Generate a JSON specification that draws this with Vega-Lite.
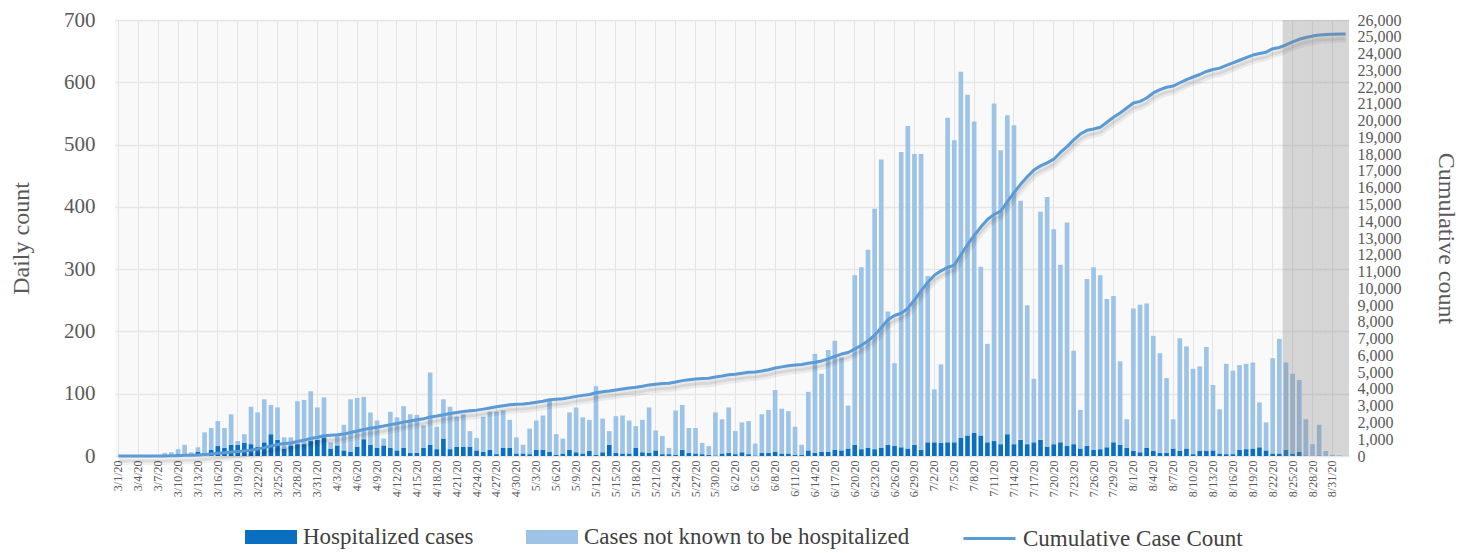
{
  "$schema": "https://vega.github.io/schema/vega-lite/v6.json",
  "width": 1234,
  "height": 436,
  "autosize": {"type": "none"},
  "padding": {"left": 115, "top": 20, "right": 119, "bottom": 97},
  "background": "white",
  "config": {
    "font": "Liberation Serif",
    "view": {"stroke": null, "fill": "#f9f9f9"},
    "axis": {"labelFont": "Liberation Serif", "titleFont": "Liberation Serif", "labelColor": "#595959", "titleColor": "#595959", "titleFontWeight": "normal", "domain": false, "ticks": false},
    "legend": {"labelFont": "Liberation Serif", "labelColor": "#404040", "padding": 0, "labelLimit": 0}
  },
  "data": {"values": [
    {"d":"3/1/20","h":0,"n":0,"c":0},{"d":"3/2/20","h":0,"n":0,"c":0},{"d":"3/3/20","h":0,"n":0,"c":0},{"d":"3/4/20","h":0,"n":0,"c":0},{"d":"3/5/20","h":0,"n":0,"c":0},{"d":"3/6/20","h":0,"n":1,"c":1},{"d":"3/7/20","h":0,"n":1,"c":2},{"d":"3/8/20","h":1,"n":4,"c":6},{"d":"3/9/20","h":2,"n":4,"c":12},{"d":"3/10/20","h":3,"n":8,"c":22},
    {"d":"3/11/20","h":3,"n":15,"c":38},{"d":"3/12/20","h":2,"n":4,"c":44},{"d":"3/13/20","h":7,"n":7,"c":57},{"d":"3/14/20","h":5,"n":33,"c":90},{"d":"3/15/20","h":10,"n":35,"c":125},{"d":"3/16/20","h":16,"n":40,"c":160},{"d":"3/17/20","h":13,"n":32,"c":195},{"d":"3/18/20","h":18,"n":49,"c":245},{"d":"3/19/20","h":18,"n":6,"c":265},{"d":"3/20/20","h":21,"n":14,"c":295},
    {"d":"3/21/20","h":19,"n":60,"c":350},{"d":"3/22/20","h":15,"n":55,"c":415},{"d":"3/23/20","h":22,"n":69,"c":500},{"d":"3/24/20","h":35,"n":47,"c":600},{"d":"3/25/20","h":26,"n":52,"c":690},{"d":"3/26/20","h":12,"n":18,"c":740},{"d":"3/27/20","h":17,"n":13,"c":775},{"d":"3/28/20","h":19,"n":69,"c":860},{"d":"3/29/20","h":19,"n":71,"c":945},{"d":"3/30/20","h":24,"n":80,"c":1045},{"d":"3/31/20","h":26,"n":52,"c":1120},
    {"d":"4/1/20","h":30,"n":64,"c":1210},{"d":"4/2/20","h":12,"n":10,"c":1232},{"d":"4/3/20","h":17,"n":15,"c":1262},{"d":"4/4/20","h":9,"n":41,"c":1310},{"d":"4/5/20","h":7,"n":84,"c":1398},{"d":"4/6/20","h":15,"n":78,"c":1488},{"d":"4/7/20","h":27,"n":68,"c":1585},{"d":"4/8/20","h":18,"n":52,"c":1660},{"d":"4/9/20","h":13,"n":44,"c":1720},{"d":"4/10/20","h":17,"n":11,"c":1790},
    {"d":"4/11/20","h":13,"n":58,"c":1870},{"d":"4/12/20","h":9,"n":53,"c":1935},{"d":"4/13/20","h":13,"n":67,"c":2020},{"d":"4/14/20","h":5,"n":62,"c":2090},{"d":"4/15/20","h":5,"n":61,"c":2160},{"d":"4/16/20","h":13,"n":36,"c":2215},{"d":"4/17/20","h":18,"n":116,"c":2330},{"d":"4/18/20","h":11,"n":36,"c":2380},{"d":"4/19/20","h":28,"n":63,"c":2455},{"d":"4/20/20","h":11,"n":68,"c":2530},
    {"d":"4/21/20","h":15,"n":48,"c":2590},{"d":"4/22/20","h":15,"n":52,"c":2655},{"d":"4/23/20","h":15,"n":25,"c":2700},{"d":"4/24/20","h":9,"n":20,"c":2735},{"d":"4/25/20","h":7,"n":56,"c":2795},{"d":"4/26/20","h":10,"n":61,"c":2865},{"d":"4/27/20","h":3,"n":68,"c":2935},{"d":"4/28/20","h":13,"n":60,"c":3000},{"d":"4/29/20","h":13,"n":45,"c":3055},{"d":"4/30/20","h":4,"n":26,"c":3085},
    {"d":"5/1/20","h":4,"n":14,"c":3105},{"d":"5/2/20","h":3,"n":41,"c":3150},{"d":"5/3/20","h":10,"n":47,"c":3205},{"d":"5/4/20","h":10,"n":55,"c":3265},{"d":"5/5/20","h":7,"n":83,"c":3350},{"d":"5/6/20","h":2,"n":33,"c":3385},{"d":"5/7/20","h":4,"n":24,"c":3415},{"d":"5/8/20","h":10,"n":60,"c":3480},{"d":"5/9/20","h":6,"n":72,"c":3555},{"d":"5/10/20","h":4,"n":58,"c":3615},
    {"d":"5/11/20","h":8,"n":50,"c":3670},{"d":"5/12/20","h":2,"n":110,"c":3775},{"d":"5/13/20","h":6,"n":54,"c":3835},{"d":"5/14/20","h":18,"n":22,"c":3875},{"d":"5/15/20","h":5,"n":59,"c":3935},{"d":"5/16/20","h":4,"n":61,"c":3995},{"d":"5/17/20","h":4,"n":53,"c":4050},{"d":"5/18/20","h":13,"n":35,"c":4100},{"d":"5/19/20","h":6,"n":52,"c":4160},{"d":"5/20/20","h":5,"n":73,"c":4240},
    {"d":"5/21/20","h":9,"n":32,"c":4285},{"d":"5/22/20","h":3,"n":29,"c":4320},{"d":"5/23/20","h":3,"n":10,"c":4335},{"d":"5/24/20","h":2,"n":71,"c":4410},{"d":"5/25/20","h":10,"n":72,"c":4495},{"d":"5/26/20","h":5,"n":40,"c":4545},{"d":"5/27/20","h":4,"n":41,"c":4590},{"d":"5/28/20","h":3,"n":18,"c":4615},{"d":"5/29/20","h":2,"n":14,"c":4635},{"d":"5/30/20","h":1,"n":69,"c":4705},{"d":"5/31/20","h":4,"n":55,"c":4765},
    {"d":"6/1/20","h":5,"n":73,"c":4840},{"d":"6/2/20","h":3,"n":37,"c":4880},{"d":"6/3/20","h":6,"n":48,"c":4935},{"d":"6/4/20","h":3,"n":53,"c":4990},{"d":"6/5/20","h":1,"n":19,"c":5010},{"d":"6/6/20","h":5,"n":62,"c":5075},{"d":"6/7/20","h":5,"n":69,"c":5145},{"d":"6/8/20","h":7,"n":99,"c":5245},{"d":"6/9/20","h":4,"n":72,"c":5315},{"d":"6/10/20","h":4,"n":68,"c":5385},
    {"d":"6/11/20","h":2,"n":45,"c":5430},{"d":"6/12/20","h":2,"n":16,"c":5460},{"d":"6/13/20","h":9,"n":94,"c":5530},{"d":"6/14/20","h":5,"n":159,"c":5590},{"d":"6/15/20","h":7,"n":125,"c":5670},{"d":"6/16/20","h":7,"n":163,"c":5790},{"d":"6/17/20","h":10,"n":175,"c":5940},{"d":"6/18/20","h":9,"n":149,"c":6080},{"d":"6/19/20","h":12,"n":69,"c":6170},{"d":"6/20/20","h":18,"n":272,"c":6380},
    {"d":"6/21/20","h":11,"n":292,"c":6600},{"d":"6/22/20","h":13,"n":318,"c":6860},{"d":"6/23/20","h":11,"n":386,"c":7200},{"d":"6/24/20","h":13,"n":463,"c":7650},{"d":"6/25/20","h":18,"n":214,"c":8120},{"d":"6/26/20","h":16,"n":133,"c":8380},{"d":"6/27/20","h":14,"n":474,"c":8520},{"d":"6/28/20","h":12,"n":518,"c":8800},{"d":"6/29/20","h":18,"n":467,"c":9300},{"d":"6/30/20","h":10,"n":475,"c":9850},
    {"d":"7/1/20","h":22,"n":267,"c":10350},{"d":"7/2/20","h":22,"n":85,"c":10780},{"d":"7/3/20","h":21,"n":126,"c":11040},{"d":"7/4/20","h":22,"n":521,"c":11240},{"d":"7/5/20","h":22,"n":485,"c":11380},{"d":"7/6/20","h":29,"n":588,"c":12000},{"d":"7/7/20","h":33,"n":547,"c":12600},{"d":"7/8/20","h":37,"n":500,"c":13150},{"d":"7/9/20","h":33,"n":271,"c":13650},{"d":"7/10/20","h":22,"n":158,"c":14100},
    {"d":"7/11/20","h":24,"n":542,"c":14400},{"d":"7/12/20","h":19,"n":472,"c":14600},{"d":"7/13/20","h":35,"n":512,"c":15150},{"d":"7/14/20","h":19,"n":512,"c":15700},{"d":"7/15/20","h":26,"n":384,"c":16200},{"d":"7/16/20","h":19,"n":223,"c":16650},{"d":"7/17/20","h":22,"n":102,"c":17050},{"d":"7/18/20","h":26,"n":366,"c":17300},{"d":"7/19/20","h":15,"n":401,"c":17480},{"d":"7/20/20","h":19,"n":345,"c":17700},
    {"d":"7/21/20","h":22,"n":285,"c":18100},{"d":"7/22/20","h":16,"n":359,"c":18450},{"d":"7/23/20","h":19,"n":150,"c":18850},{"d":"7/24/20","h":12,"n":62,"c":19200},{"d":"7/25/20","h":16,"n":268,"c":19420},{"d":"7/26/20","h":10,"n":293,"c":19500},{"d":"7/27/20","h":11,"n":279,"c":19600},{"d":"7/28/20","h":14,"n":238,"c":19900},{"d":"7/29/20","h":22,"n":235,"c":20200},{"d":"7/30/20","h":18,"n":134,"c":20450},{"d":"7/31/20","h":13,"n":46,"c":20750},
    {"d":"8/1/20","h":8,"n":229,"c":21050},{"d":"8/2/20","h":6,"n":237,"c":21150},{"d":"8/3/20","h":13,"n":232,"c":21350},{"d":"8/4/20","h":8,"n":185,"c":21650},{"d":"8/5/20","h":5,"n":160,"c":21850},{"d":"8/6/20","h":5,"n":120,"c":21990},{"d":"8/7/20","h":12,"n":47,"c":22060},{"d":"8/8/20","h":8,"n":181,"c":22260},{"d":"8/9/20","h":12,"n":164,"c":22450},{"d":"8/10/20","h":3,"n":137,"c":22600},
    {"d":"8/11/20","h":8,"n":136,"c":22750},{"d":"8/12/20","h":8,"n":167,"c":22930},{"d":"8/13/20","h":9,"n":105,"c":23050},{"d":"8/14/20","h":4,"n":71,"c":23130},{"d":"8/15/20","h":3,"n":145,"c":23290},{"d":"8/16/20","h":3,"n":134,"c":23440},{"d":"8/17/20","h":10,"n":136,"c":23600},{"d":"8/18/20","h":11,"n":137,"c":23760},{"d":"8/19/20","h":12,"n":138,"c":23910},{"d":"8/20/20","h":14,"n":72,"c":24000},
    {"d":"8/21/20","h":9,"n":45,"c":24080},{"d":"8/22/20","h":4,"n":153,"c":24290},{"d":"8/23/20","h":4,"n":184,"c":24360},{"d":"8/24/20","h":10,"n":140,"c":24520},{"d":"8/25/20","h":4,"n":128,"c":24700},{"d":"8/26/20","h":7,"n":115,"c":24850},{"d":"8/27/20","h":1,"n":58,"c":24960},{"d":"8/28/20","h":0,"n":19,"c":25040},{"d":"8/29/20","h":1,"n":49,"c":25100},{"d":"8/30/20","h":0,"n":8,"c":25130},{"d":"8/31/20","h":0,"n":2,"c":25150},
    {"d":"9/1/20","h":0,"n":1,"c":25160},{"d":"9/2/20","h":0,"n":0,"c":25165}
  ]},
  "layer": [
    {
      "transform": [{"fold": ["h", "n"], "as": ["series", "count"]}],
      "mark": {"type": "bar", "width": {"band": 0.7}},
      "encoding": {
        "x": {
          "field": "d", "type": "ordinal", "sort": null,
          "scale": {"paddingInner": 0, "paddingOuter": 0},
          "axis": {
            "title": null, "labelAngle": 270, "labelFontSize": 12, "labelPadding": 4, "labelOverlap": false,
            "labelExpr": "round(datum.index * 185) % 3 == 0 ? datum.label : ''",
            "grid": true, "gridColor": "#e4e4e4", "gridWidth": 1,
            "gridOpacity": {"condition": {"test": "round(datum.index * 185) % 3 == 0", "value": 1}, "value": 0}
          }
        },
        "y": {
          "field": "count", "type": "quantitative", "stack": "zero",
          "scale": {"domain": [0, 700], "nice": false},
          "axis": {
            "orient": "left", "title": "Daily count", "titleFontSize": 24, "titlePadding": 30,
            "values": [0, 100, 200, 300, 400, 500, 600, 700], "labelFontSize": 21, "labelPadding": 20,
            "grid": true, "gridColor": "#e6e6e6", "gridWidth": 1.3
          }
        },
        "color": {
          "field": "series", "type": "nominal",
          "scale": {"domain": ["h", "n"], "range": ["#0B6FC1", "#9DC3E6"]},
          "legend": {
            "orient": "none", "legendX": 130, "legendY": 491, "direction": "horizontal", "title": null,
            "symbolType": "M-1,-0.27H1V0.27H-1Z", "symbolSize": 2704, "symbolStrokeWidth": 0,
            "labelFontSize": 23, "labelOffset": 6, "columnPadding": 52,
            "labelExpr": "datum.label == 'h' ? 'Hospitalized cases' : 'Cases not known to be hospitalized'"
          }
        },
        "order": {"field": "series", "sort": "ascending"}
      }
    },
    {
      "layer": [
        {
          "mark": {"type": "line", "color": "#000000", "opacity": 0.06, "strokeWidth": 8, "yOffset": 5, "strokeJoin": "round"},
          "encoding": {
            "x": {"field": "d", "type": "ordinal", "sort": null},
            "y": {
              "field": "c", "type": "quantitative", "scale": {"domain": [0, 26000], "nice": false},
              "axis": {"orient": "right", "title": "Cumulative count", "titleFontSize": 24, "titlePadding": 32, "values": [0,1000,2000,3000,4000,5000,6000,7000,8000,9000,10000,11000,12000,13000,14000,15000,16000,17000,18000,19000,20000,21000,22000,23000,24000,25000,26000], "format": ",", "labelExpr": "format(datum.value, ',')", "labelFontSize": 16, "labelPadding": 8, "labelOverlap": false, "grid": false}
            }
          }
        },
        {
          "mark": {"type": "line", "color": "#000000", "opacity": 0.08, "strokeWidth": 3, "yOffset": 5, "strokeJoin": "round"},
          "encoding": {
            "x": {"field": "d", "type": "ordinal", "sort": null},
            "y": {
              "field": "c", "type": "quantitative",
              "axis": {"orient": "right", "title": "Cumulative count", "titleFontSize": 24, "titlePadding": 32, "values": [0,1000,2000,3000,4000,5000,6000,7000,8000,9000,10000,11000,12000,13000,14000,15000,16000,17000,18000,19000,20000,21000,22000,23000,24000,25000,26000], "format": ",", "labelExpr": "format(datum.value, ',')", "labelFontSize": 16, "labelPadding": 8, "labelOverlap": false, "grid": false}
            }
          }
        },
        {
          "mark": {"type": "line", "strokeWidth": 3, "strokeJoin": "round"},
          "encoding": {
            "x": {"field": "d", "type": "ordinal", "sort": null},
            "y": {
              "field": "c", "type": "quantitative",
              "axis": {"orient": "right", "title": "Cumulative count", "titleFontSize": 24, "titlePadding": 32, "values": [0,1000,2000,3000,4000,5000,6000,7000,8000,9000,10000,11000,12000,13000,14000,15000,16000,17000,18000,19000,20000,21000,22000,23000,24000,25000,26000], "format": ",", "labelExpr": "format(datum.value, ',')", "labelFontSize": 16, "labelPadding": 8, "labelOverlap": false, "grid": false}
            },
            "stroke": {
              "datum": "Cumulative Case Count",
              "scale": {"range": ["#5B9BD5"]},
              "legend": {
                "orient": "none", "legendX": 847, "legendY": 491, "title": null,
                "symbolType": "stroke", "symbolSize": 2704, "symbolStrokeWidth": 3,
                "labelFontSize": 23, "labelOffset": 6
              }
            }
          }
        },
        {
          "transform": [{"filter": {"field": "d", "oneOf": ["8/24/20","8/25/20","8/26/20","8/27/20","8/28/20","8/29/20","8/30/20","8/31/20","9/1/20","9/2/20"]}}],
          "mark": {"type": "bar", "width": {"band": 1}, "color": "#808080", "opacity": 0.3},
          "encoding": {
            "x": {"field": "d", "type": "ordinal", "sort": null},
            "y": {
              "datum": 0, "type": "quantitative",
              "axis": {"orient": "right", "title": "Cumulative count", "titleFontSize": 24, "titlePadding": 32, "values": [0,1000,2000,3000,4000,5000,6000,7000,8000,9000,10000,11000,12000,13000,14000,15000,16000,17000,18000,19000,20000,21000,22000,23000,24000,25000,26000], "format": ",", "labelExpr": "format(datum.value, ',')", "labelFontSize": 16, "labelPadding": 8, "labelOverlap": false, "grid": false}
            },
            "y2": {"datum": 26000}
          }
        }
      ]
    }
  ],
  "resolve": {"scale": {"y": "independent"}}
}
